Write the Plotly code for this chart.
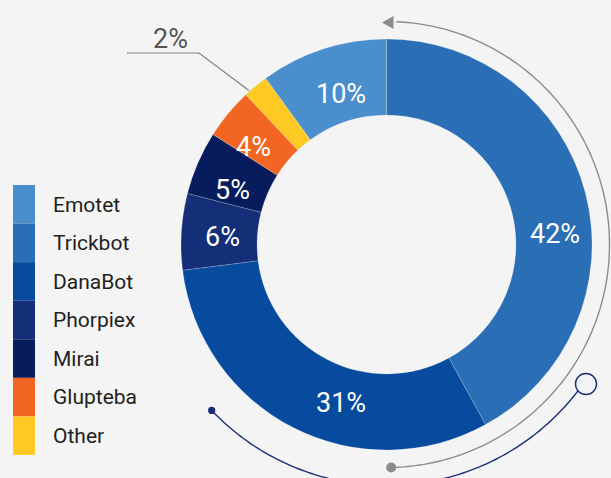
import numpy as np
import plotly.graph_objects as go

# ---- data ----
slice_labels = ["Trickbot", "DanaBot", "Phorpiex", "Mirai", "Glupteba", "Other", "Emotet"]
slice_values = [42, 31, 6, 5, 4, 2, 10]
slice_colors = ["#2a6eb6", "#064b9e", "#142f78", "#061c5c", "#f26522", "#fec923", "#4a8fcc"]

legend_labels = ["Emotet", "Trickbot", "DanaBot", "Phorpiex", "Mirai", "Glupteba", "Other"]
legend_colors = ["#4a8fcc", "#2a6eb6", "#064b9e", "#142f78", "#061c5c", "#f26522", "#fec923"]

# ---- layout / style ----
FONT = "Roboto"
BG = "#f4f4f4"
W, H = 611, 478
CX, CY, R = 386.5, 244.5, 205.5
HOLE = 0.63
# pixel anchor of each in-slice percentage label (layout only)
label_pos = {
    "Trickbot": (555, 234), "DanaBot": (340.5, 402.5), "Phorpiex": (222.5, 236.5),
    "Mirai": (232.5, 189.5), "Glupteba": (253, 147), "Emotet": (341, 93.5),
    "Other": (170, 39),
}


def px(x, y):
    return x / W, 1 - y / H


def arc_path(r, a0, a1, n=120):
    ang = np.radians(np.linspace(a0, a1, n))
    pts = []
    for a in ang:
        x, y = px(CX + r * np.cos(a), CY - r * np.sin(a))
        pts.append(f"{x:.5f},{y:.5f}")
    return "M " + " L ".join(pts)


def poly_path(points):
    pts = []
    for (x, y) in points:
        u, v = px(x, y)
        pts.append(f"{u:.5f},{v:.5f}")
    return "M " + " L ".join(pts) + " Z"


fig = go.Figure()
fig.add_trace(go.Pie(
    labels=slice_labels, values=slice_values, sort=False, direction="clockwise",
    rotation=0, hole=HOLE,
    marker=dict(colors=slice_colors, line=dict(color="rgba(244,244,244,0.35)", width=0.6)),
    textinfo="none",
    hovertemplate="%{label}: %{value}%<extra></extra>",
    domain=dict(x=[(CX - R) / W, (CX + R) / W], y=[1 - (CY + R) / H, 1 - (CY - R) / H]),
    showlegend=False,
))

# legend as a stacked colour bar
fig.add_trace(go.Bar(
    x=[1] * len(legend_labels), y=legend_labels, orientation="h", width=1,
    marker=dict(color=legend_colors, line=dict(width=0)),
    xaxis="x", yaxis="y", showlegend=False, hoverinfo="y",
))

fig.update_layout(
    width=W, height=H, margin=dict(l=0, r=0, t=0, b=0),
    paper_bgcolor=BG, plot_bgcolor=BG,
    xaxis=dict(domain=[13 / W, 35 / W], range=[0, 1], visible=False, fixedrange=True),
    yaxis=dict(domain=[1 - 455 / H, 1 - 185 / H], range=[6.5, -0.5], side="right",
               showgrid=False, zeroline=False, showline=False, ticks="",
               ticklabelstandoff=17,
               tickfont=dict(family=FONT, size=21, color="#231f20")),
)

# percentage labels
for lab, val in zip(slice_labels, slice_values):
    lx, ly = px(*label_pos[lab])
    col = "#555555" if lab == "Other" else "white"
    fig.add_annotation(x=lx, y=ly, xref="paper", yref="paper", text=f"{val}%",
                       xanchor="center", yanchor="middle", showarrow=False,
                       font=dict(family=FONT, size=27, color=col))

# leader line for the small slice
cum_before = sum(slice_values[:slice_labels.index("Other")])
other_val = slice_values[slice_labels.index("Other")]
frac = (cum_before + 0.2 * other_val) / sum(slice_values)
ang = 2 * np.pi * frac
ex, ey = CX + (R + 1) * np.sin(ang), CY - (R + 1) * np.cos(ang)
fig.add_shape(type="path", path="M {0},{1} L {2},{3} L {4},{5}".format(
    *px(127, 53), *px(199, 53), *px(ex, ey)),
    xref="paper", yref="paper", line=dict(color="#808080", width=1.2))

# decorative gray arc with arrow and dot
R2 = 223
fig.add_shape(type="path", path=arc_path(R2, 87.5, -88.5), xref="paper", yref="paper",
              line=dict(color="#8c8c8c", width=1.4))
tip_y = CY - R2 + 1
fig.add_shape(type="path", path=poly_path([(382, tip_y), (393.5, tip_y - 6.5), (393.5, tip_y + 6.5)]),
              xref="paper", yref="paper", fillcolor="#8c8c8c", line=dict(width=0))
dx, dy = CX + R2 * np.cos(np.radians(-88.8)), CY + R2 * np.sin(np.radians(88.8))
x0, y0 = px(dx - 5, dy - 5)
x1, y1 = px(dx + 5, dy + 5)
fig.add_shape(type="circle", x0=x0, y0=y0, x1=x1, y1=y1, xref="paper", yref="paper",
              fillcolor="#8c8c8c", line=dict(width=0))

# decorative navy arc with dot and open ring
R3 = 241
fig.add_shape(type="path", path=arc_path(R3, -136.5, -37.3), xref="paper", yref="paper",
              line=dict(color="#1b2f77", width=1.4))
nx, ny = CX + R3 * np.cos(np.radians(-136.5)), CY + R3 * np.sin(np.radians(136.5))
x0, y0 = px(nx - 3.6, ny - 3.6)
x1, y1 = px(nx + 3.6, ny + 3.6)
fig.add_shape(type="circle", x0=x0, y0=y0, x1=x1, y1=y1, xref="paper", yref="paper",
              fillcolor="#1b2f77", line=dict(width=0))
ox, oy = 586, 384
x0, y0 = px(ox - 10.5, oy - 10.5)
x1, y1 = px(ox + 10.5, oy + 10.5)
fig.add_shape(type="circle", x0=x0, y0=y0, x1=x1, y1=y1, xref="paper", yref="paper",
              fillcolor=BG, line=dict(color="#1b2f77", width=1.4))

fig.write_html("out.html", config={"displayModeBar": False},
               post_script="document.body.style.margin='0';document.body.style.overflow='hidden';")
